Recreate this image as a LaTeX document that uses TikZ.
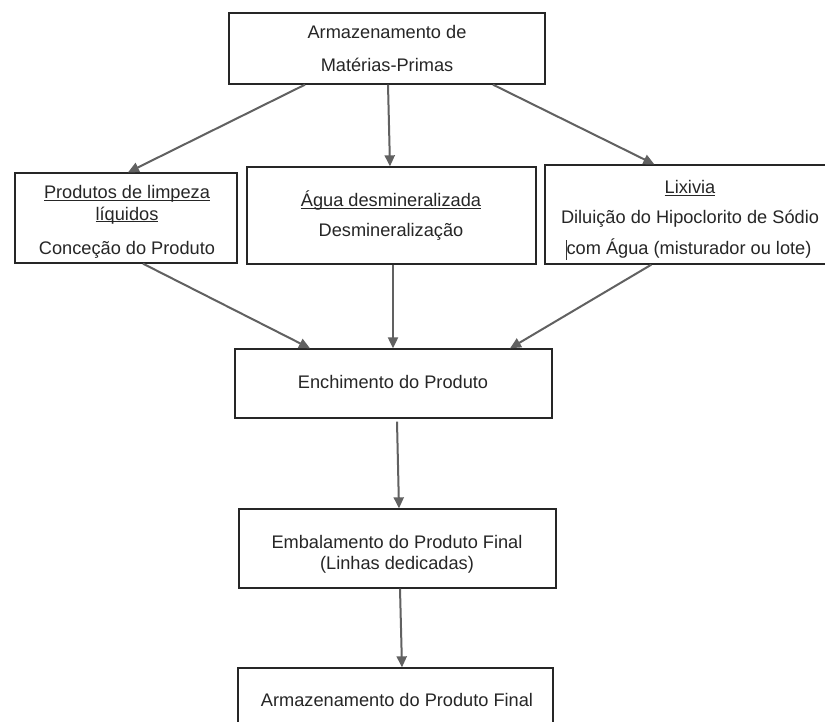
\documentclass[tikz,border=0pt]{standalone}
\usepackage{fontspec}
\setmainfont{Liberation Sans}
\usetikzlibrary{arrows.meta,calc}
\newcommand\ulx[1]{\underline{\smash{#1}}}
\begin{document}
\begin{tikzpicture}[x=1pt,y=-1pt,
  box/.style={draw=black!85, line width=1.3pt, rectangle, inner sep=0pt},
  txt/.style={anchor=base, inner sep=0pt, text=black!85, font=\fontsize{18.2}{21}\selectfont},
  arr/.style={draw=black!62, line width=2pt, -{Triangle[length=11pt,width=10pt]}}]
\useasboundingbox (0,0) rectangle (825,721);
\clip (0,0) rectangle (825,721);
\fill[white] (0,0) rectangle (825,721);
% boxes
\node[box, minimum width=316pt, minimum height=71pt] (top) at (387,48.5) {};
\node[box, minimum width=222pt, minimum height=90pt] (left) at (126,218) {};
\node[box, minimum width=289pt, minimum height=97pt] (mid) at (391.5,215.5) {};
\node[box, minimum width=292pt, minimum height=99pt] (right) at (691,214.5) {};
\node[box, minimum width=317pt, minimum height=69pt] (ench) at (393.5,383.5) {};
\node[box, minimum width=317pt, minimum height=79pt] (emb) at (397.5,548.5) {};
\node[box, minimum width=315pt, minimum height=72pt] (fin) at (395.5,704) {};
% texts
\node[txt] (t1) at (387,38) {Armazenamento de};
\node[txt] (t2) at (387,71) {Matérias-Primas};
\node[txt] (l1) at (127,198.5) {\ulx{Produtos de limpeza}};
\node[txt] (l2) at (127,220) {\ulx{líquidos}};
\node[txt] (l3) at (127,254.5) {Conceção do Produto};
\node[txt] (m1) at (391,206.5) {\ulx{Água desmineralizada}};
\node[txt] (m2) at (391,236.5) {Desmineralização};
\node[txt] (r1) at (690,193.5) {\ulx{Lixivia}};
\node[txt] (r2) at (690,223.5) {Diluição do Hipoclorito de Sódio};
\node[txt] (r3) at (689,254.5) {com Água (misturador ou lote)};
\node[txt] (e1) at (393,388.5) {Enchimento do Produto};
\node[txt] (b1) at (397,548.5) {Embalamento do Produto Final};
\node[txt] (b2) at (397,569.5) {(Linhas dedicadas)};
\node[txt] (f1) at (397,706.5) {Armazenamento do Produto Final};
\draw[line width=1pt, black!80] (566,240) -- (566,260);
% arrows
\draw[arr] ([xshift=-82pt]top.south) -- ([xshift=2pt]left.north);
\draw[arr] ([xshift=1pt]top.south) -- ([xshift=-1.5pt]mid.north);
\draw[arr] ([xshift=106pt]top.south) -- ([xshift=110pt]right.north west);
\draw[arr] ([xshift=17pt]left.south) -- ([xshift=-83.5pt]ench.north);
\draw[arr] ([xshift=1.5pt]mid.south) -- ([xshift=-0.5pt]ench.north);
\draw[arr] ([xshift=107pt]right.south west) -- ([xshift=116.5pt]ench.north);
\draw[arr] ([xshift=3.5pt,yshift=-3pt]ench.south) -- ([xshift=1.5pt]emb.north);
\draw[arr] ([xshift=2.5pt]emb.south) -- ([xshift=6.5pt]fin.north);
\end{tikzpicture}
\end{document}
